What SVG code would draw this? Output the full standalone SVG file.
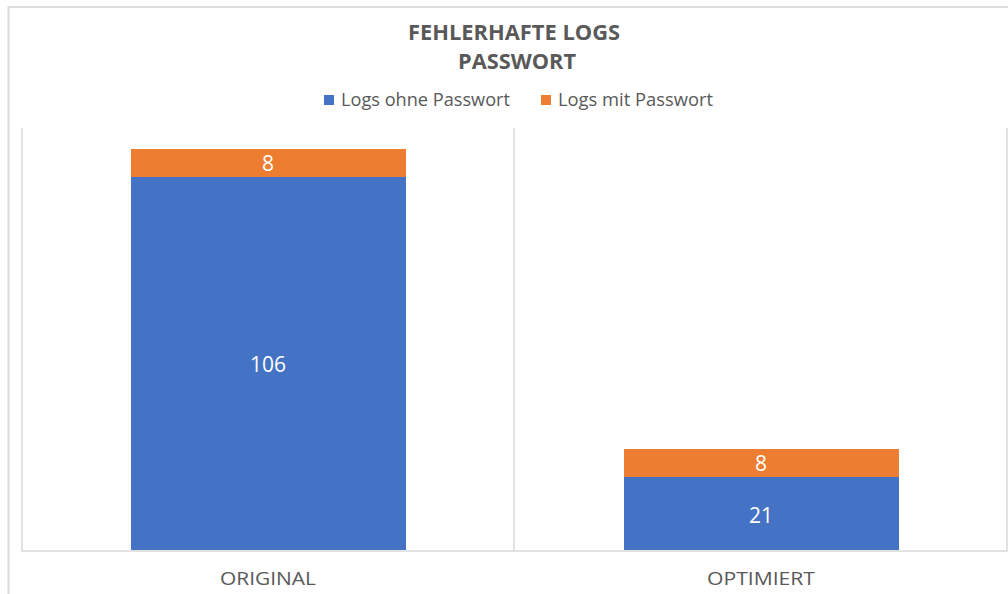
<svg xmlns="http://www.w3.org/2000/svg" width="1008" height="594" viewBox="0 0 1008 594">
<style>
.title{font-family:"Open Sans","Liberation Sans",sans-serif;font-weight:bold;font-size:21px;fill:#595959;text-anchor:middle}
.leg{font-family:"Open Sans","Liberation Sans",sans-serif;font-size:18px;fill:#595959}
.val{font-family:"Open Sans","Liberation Sans",sans-serif;font-size:21px;fill:#ffffff;text-anchor:middle}
.cat{font-family:"Open Sans","Liberation Sans",sans-serif;font-size:19px;fill:#595959;text-anchor:middle}
.grid{stroke:#d9d9d9;stroke-width:1.5;fill:none}
.blue{fill:#4472c4}
.orange{fill:#ed7d31}
</style>
<rect x="0" y="0" width="1008" height="594" fill="#ffffff"/>
<g id="frame">
<path d="M8.5 594 V7 H1008" stroke="#dcdcdc" stroke-width="2" fill="none"/>
</g>
<g id="title">
<text class="title" x="514" y="40" textLength="212" lengthAdjust="spacingAndGlyphs">FEHLERHAFTE LOGS</text>
<text class="title" x="517" y="69" textLength="118" lengthAdjust="spacingAndGlyphs">PASSWORT</text>
</g>
<g id="legend">
<rect class="blue" x="324" y="95" width="10" height="10"/>
<text class="leg" x="341" y="106" textLength="169" lengthAdjust="spacingAndGlyphs">Logs ohne Passwort</text>
<rect class="orange" x="541" y="95" width="10" height="10"/>
<text class="leg" x="558" y="106" textLength="155" lengthAdjust="spacingAndGlyphs">Logs mit Passwort</text>
</g>
<g id="connectors">
<path class="grid" d="M22 128 V551 H1007 V128 M514 128 V551"/>
</g>
<g id="bar-original">
<rect class="blue" x="131" y="177" width="275" height="373"/>
<rect class="orange" x="131" y="149" width="275" height="28"/>
<text class="val" x="268" y="372">106</text>
<text class="val" x="268" y="171">8</text>
</g>
<g id="bar-optimiert">
<rect class="blue" x="624" y="477" width="275" height="73"/>
<rect class="orange" x="624" y="449" width="275" height="28"/>
<text class="val" x="761" y="523">21</text>
<text class="val" x="761" y="471">8</text>
</g>
<g id="categories">
<text class="cat" x="268" y="585" textLength="96" lengthAdjust="spacingAndGlyphs">ORIGINAL</text>
<text class="cat" x="761" y="585" textLength="108" lengthAdjust="spacingAndGlyphs">OPTIMIERT</text>
</g>
</svg>
